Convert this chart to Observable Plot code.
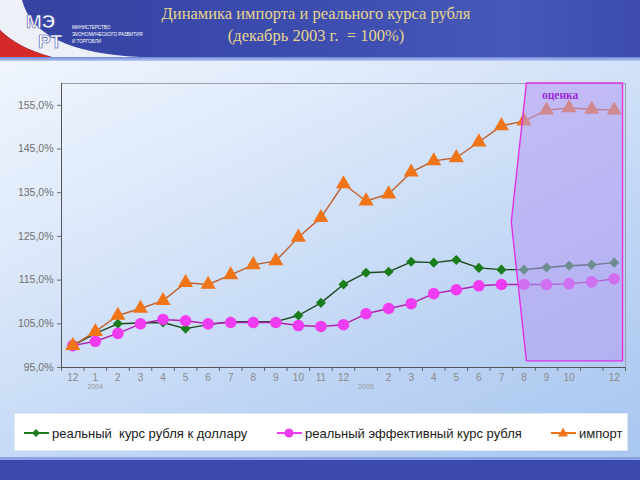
<!DOCTYPE html>
<html><head><meta charset="utf-8">
<script src="https://cdn.jsdelivr.net/npm/d3@7"></script>
<script src="https://cdn.jsdelivr.net/npm/@observablehq/plot@0.6"></script>
<style>
html,body{margin:0;padding:0;}
body{width:640px;height:480px;position:relative;overflow:hidden;font-family:"Liberation Sans",Arial,sans-serif;
 background:linear-gradient(155deg,#f6f9fe 0%,#dce8fa 35%,#bcd3f4 70%,#a7c5ef 100%);}
#header{position:absolute;left:0;top:0;width:640px;height:57px;background:linear-gradient(90deg,#3442a0 0%,#3d4db0 50%,#4658b8 80%,#3d4cae 100%);}
#header .stripe{position:absolute;left:0;top:57px;width:640px;height:4px;background:linear-gradient(#6f86d8,#b8cbf2);}
#title{position:absolute;left:116px;width:400px;top:3px;text-align:center;white-space:nowrap;font-family:"Liberation Serif","DejaVu Serif",serif;font-size:16.5px;line-height:22px;color:#e8d68e;}
#chart{position:absolute;left:0;top:60px;}
#legend{position:absolute;left:14px;top:413px;width:614px;height:38px;background:#fff;border:1px solid #dfe7f5;box-sizing:border-box;}
.li{position:absolute;top:10px;height:18px;display:flex;align-items:center;font-size:13px;color:#1a1a1a;white-space:pre;}
#footer{position:absolute;left:0;top:457px;width:640px;height:23px;background:#3c49ad;border-top:3px solid #8ea3e4;box-sizing:border-box;}
</style></head>
<body>
<div id="header">
<svg width="150" height="57" style="position:absolute;left:0;top:0">
 <path d="M0,0 L22,0 Q35,52 140,57 L52,57 Q18,48 0,30 Z" fill="#eef0f8"/>
 <path d="M0,30 Q18,48 52,57 L0,57 Z" fill="#d42a2a"/>
 <text x="26" y="28" font-family="Liberation Sans" font-weight="bold" font-size="19" fill="#fff" stroke="#3a48a6" stroke-width="0.6">МЭ</text>
 <text x="38" y="48" font-family="Liberation Sans" font-weight="bold" font-size="19" fill="#fff" stroke="#3a48a6" stroke-width="0.6">РТ</text>
 <text x="72" y="29" font-size="4.6" fill="#fff" font-family="Liberation Sans">МИНИСТЕРСТВО</text>
 <text x="72" y="36" font-size="4.6" fill="#fff" font-family="Liberation Sans">ЭКОНОМИЧЕСКОГО РАЗВИТИЯ</text>
 <text x="72" y="43" font-size="4.6" fill="#fff" font-family="Liberation Sans">И ТОРГОВЛИ</text>
</svg>
<div id="title">Динамика импорта и реального курса рубля<br>(декабрь 2003 г.&nbsp; = 100%)</div>
<div class="stripe"></div>
</div>
<div id="chart"></div>
<div id="legend"></div>
<div id="footer"></div>
<script>
// ---- data ----
const monthLabels = ["12","1","2","3","4","5","6","7","8","9","10","11","12","","2","3","4","5","6","7","8","9","10","","12"];
const yearLabels = [{i:1,text:"2004"},{i:13,text:"2005"}];
const usdRate  = [100,102.8,105,105.2,105.3,103.9,104.8,105.5,105.5,105.5,106.9,109.8,114,116.7,116.9,119.2,119,119.6,117.8,117.4,117.4,117.9,118.3,118.5,119];
const reerRate = [100,101,102.8,105,106,105.7,105,105.3,105.3,105.3,104.6,104.4,104.8,107.3,108.5,109.6,111.9,112.8,113.7,114,114,114,114.2,114.6,115.3];
const imports  = [100,103.2,106.9,108.5,110.3,114.4,114,116.2,118.5,119.4,124.8,129.3,137,133.1,134.7,139.7,142.3,143,146.6,150.3,151.4,153.9,154.4,154.1,153.9];
const yTicks = [95,105,115,125,135,145,155];
const seriesNames = ["реальный  курс рубля к доллару","реальный эффективный курс рубля","импорт"];
// estimate period region (x = month index, v = percent)
const estimateRegion = [{v:160,x1:20.13,x2:24.39},{v:128.2,x1:19.46,x2:24.39},{v:96.4,x1:20.13,x2:24.39}];
const estimateLabel = [{i:21.6,v:157.4,text:"оценка"}];

const toRows = arr => arr.map((v,i)=>({i,v}));
const usdRows = toRows(usdRate), reerRows = toRows(reerRate), impRows = toRows(imports);
const idx = monthLabels.map((_,i)=>i);
const bounds = d3.range(0, monthLabels.length+1).map(k=>k-0.5);

const colors = {usd:"#1b7d1b", usdLine:"#1c4a1c", reer:"#f03cf0", reerLine:"#b020b0", imp:"#f07418", impLine:"#c0602c"};

const chart = Plot.plot({
  width:640, height:345,
  marginTop:23, marginBottom:38, marginLeft:61, marginRight:15,
  style:{background:"transparent", fontFamily:"Liberation Sans, Arial, sans-serif"},
  x:{type:"linear", domain:[-0.5, monthLabels.length-0.5]},
  y:{domain:[95,160]},
  marks:[
    Plot.frame({stroke:"#9aa0aa", strokeWidth:1}),
    Plot.axisY({ticks:yTicks, tickSize:4, tickPadding:4, fontSize:10.5, color:"#707070", label:null,
      tickFormat:d=>d.toFixed(1).replace(".",",")+"%"}),
    Plot.ruleX([-0.5], {stroke:"#555"}),
    Plot.axisX({ticks:bounds, tickSize:4, tickFormat:()=>"", color:"#666", label:null}),
    Plot.axisX({ticks:idx, tickSize:0, tickPadding:6, fontSize:10, color:"#8a8a8a", label:null, tickFormat:i=>monthLabels[i]}),
    Plot.ruleY([95], {stroke:"#555"}),
    Plot.text(yearLabels, {x:"i", text:"text", frameAnchor:"bottom", dy:21, fontSize:7, fill:"#999"}),
    Plot.line(usdRows, {x:"i", y:"v", stroke:colors.usdLine, strokeWidth:1.4}),
    Plot.dot(usdRows, {x:"i", y:"v", symbol:"diamond2", r:3.6, fill:colors.usd, stroke:colors.usd}),
    Plot.line(reerRows, {x:"i", y:"v", stroke:colors.reerLine, strokeWidth:1.4}),
    Plot.dot(reerRows, {x:"i", y:"v", symbol:"circle", r:5.8, fill:colors.reer, stroke:"none"}),
    Plot.line(impRows, {x:"i", y:"v", stroke:colors.impLine, strokeWidth:1.4}),
    Plot.dot(impRows, {x:"i", y:"v", symbol:"triangle", r:5.6, fill:colors.imp, stroke:"none"}),
    Plot.areaX(estimateRegion, {y:"v", x1:"x1", x2:"x2", fill:"#b59af2", fillOpacity:0.55, stroke:"#e030e8", strokeWidth:1.4}),
    Plot.text(estimateLabel, {x:"i", y:"v", text:"text", fontSize:11.5, fontWeight:"bold", fill:"#9a2ad8", fontFamily:"Liberation Serif, serif"})
  ]
});
document.getElementById("chart").appendChild(chart);

// legend
const legend = document.getElementById("legend");
const items = [
  {name:seriesNames[0], color:colors.usd, line:colors.usd, sym:"diamond", left:8},
  {name:seriesNames[1], color:colors.reer, line:colors.reer, sym:"circle", left:261},
  {name:seriesNames[2], color:colors.imp, line:colors.imp, sym:"triangle", left:535}
];
items.forEach(it=>{
  const div = document.createElement("div");
  div.className="li"; div.style.left = it.left+"px";
  let m;
  if(it.sym==="diamond") m = `<path d="M13,5 L17,9 L13,13 L9,9 Z" fill="${it.color}"/>`;
  else if(it.sym==="circle") m = `<circle cx="13" cy="9" r="4.5" fill="${it.color}"/>`;
  else m = `<path d="M13,3.5 L18,12.5 L8,12.5 Z" fill="${it.color}"/>`;
  div.innerHTML = `<svg width="27" height="18" style="margin-right:2px"><line x1="1" x2="26" y1="9" y2="9" stroke="${it.line}" stroke-width="2"/>${m}</svg><span>${it.name}</span>`;
  legend.appendChild(div);
});
</script>
</body></html>
